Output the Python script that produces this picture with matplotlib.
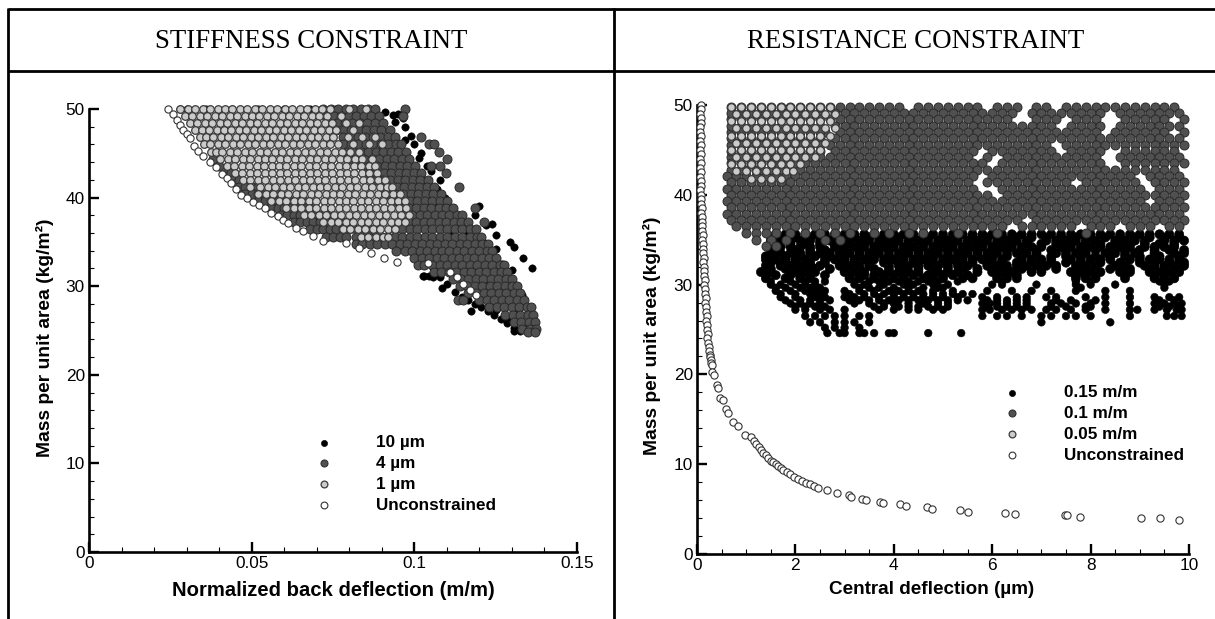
import matplotlib
matplotlib.use("Agg")
import matplotlib.pyplot as plt
from matplotlib.lines import Line2D
from matplotlib.ticker import MultipleLocator

# The clouds are too dense to read every overlapping marker, so the filled
# areas use hand-estimated representative points (row mass, x positions in
# that row), read from the picture's extents and gaps. Isolated points and
# the unconstrained curves are read individually.

# ---- Stiffness panel: x in thousandths of m/m ----
stf_open_x = [24.3,25.8,27,28,28.9,30,31,32.3,33.5,35,37.2,39,40.9,42.3,43.8,45.3,46.8,48.6,50.4,52.2,54,56,58.1,59.6,61.2,63.5,65.9,68.9,71.9,79,83,86.7,90.7,94.7,104.2,111,113,115,117,119]
stf_open_y = [50,49.4,48.8,48.2,47.6,47.2,46.7,45.8,45.3,44.7,44,43.4,42.7,42.2,41.6,41,40.3,39.9,39.5,39.2,38.8,38.3,37.9,37.5,37.1,36.6,36.2,35.7,35.1,34.9,34.3,33.7,33.2,32.7,32.6,31.6,31,30.3,29.6,29]
stf_light_y = [50,49.2,48.4,47.6,46.8,46,45.2,44.4,43.6,42.8,42,41.2,40.4,39.6,38.8,38,37.2,36.4,35.6]
stf_light_x = [
[28,30.3,32.6,34.9,37.2,39.5,41.8,44.1,46.4,48.7,51,53.3,55.6,57.9,60.2,62.5,64.8,67.1,69.4,71.7,74,80,85],
[29.5,31.8,34,36.3,38.6,40.9,43.2,45.5,47.8,50.1,52.4,54.7,57,59.3,61.6,63.9,66.2,68.5,70.8,73.1,77.5],
[31,33.3,35.6,37.9,40.2,42.5,44.8,47.1,49.4,51.7,54,56.3,58.6,60.9,63.2,65.5,67.8,70.1,72.4,74.7,79,83],
[32.5,34.6,36.9,39.2,41.5,43.8,46.1,48.4,50.7,53,55.3,57.6,59.9,62.2,64.5,66.8,69.1,71.4,73.7,76,81],
[34,35.9,38.2,40.5,42.8,45.1,47.4,49.7,52,54.3,56.6,58.9,61.2,63.5,65.8,68.1,70.4,72.7,75,79.5,84,88],
[35.5,37.3,39.6,41.9,44.2,46.5,48.8,51.1,53.4,55.7,58,60.3,62.6,64.9,67.2,69.5,71.8,74.1,76.4,81,86,90],
[37.5,39,41,43.3,45.6,47.9,50.2,52.5,54.8,57.1,59.4,61.7,64,66.3,68.6,70.9,73.2,75.5,77.8,80.1,83],
[40.3,42.6,44.9,47.2,49.5,51.8,54.1,56.4,58.7,61,63.3,65.6,67.9,70.2,72.5,74.8,77.1,79.4,81.7,84,87],
[42.3,44.6,46.9,49.2,51.5,53.8,56.1,58.4,60.7,63,65.3,67.6,69.9,72.2,74.5,76.8,79.1,81.4,83.7,86,88],
[44.8,47.1,49.4,51.7,54,56.3,58.6,60.9,63.2,65.5,67.8,70.1,72.4,74.7,77,79.3,81.6,83.9,86.2,88.5],
[47.3,49.6,51.9,54.2,56.5,58.8,61.1,63.4,65.7,68,70.3,72.6,74.9,77.2,79.5,81.8,84.1,86.4,88.7,91],
[49.5,52.6,54.9,57.2,59.5,61.8,64.1,66.4,68.7,71,73.3,75.6,77.9,80.2,82.5,84.8,87.1,89.4,91.7,93],
[52,54.3,56.6,58.9,61.2,63.5,65.8,68.1,70.4,72.7,75,77.3,79.6,81.9,84.2,86.5,88.8,91.1,93.4,95.7],
[56,58.3,60.6,62.9,65.2,67.5,69.8,72.1,74.4,76.7,79,81.3,83.6,85.9,88.2,90.5,92.8,95.1,97],
[60.5,63,65.3,67.6,69.9,72.2,74.5,76.8,79.1,81.4,83.7,86,88.3,90.6,92.9,95.2,97.5],
[66,68.3,70.6,72.9,75.2,77.5,79.8,82.1,84.4,86.7,89,91.3,93.6,95.9,98.5],
[72,74.3,76.6,78.9,81.2,83.5,85.8,88.1,90.4,92.7,95,97],
[78,80.3,82.6,84.9,87.2,89.5,91.8,94],
[83.5,85.8,88.1,90.4,92],
]
stf_dark_y = [50,49.2,48.4,47.6,46.8,46,45.2,44.4,43.6,42.8,42,41.2,40.4,39.6,38.8,38,37.2,36.4,35.6,34.8,34,33.2,32.4,31.6,30.8,30,29.2,28.4,27.6,26.8,26,25.2,24.8]
stf_dark_x = [
[72,74.3,76.6,78.9,81.2,83.5,85.8,88,97],
[73,75.3,77.6,79.9,82.2,84.5,86.8,89,96.5],
[74,76.3,78.6,80.9,83.2,85.5,87.8,90.5],
[76,78.3,80.6,82.9,85.2,87.5,89.8,92.5],
[78,80.3,82.6,84.9,87.2,89.5,91.8,94,102.2],
[78,80.5,82.8,85.1,87.4,89.7,92,94.5,96,104.5,106],
[79,81.3,83.6,85.9,88.2,90.5,92.8,95.1,97.4,107.5],
[38,80,82.3,84.6,86.9,89.2,91.5,93.8,96.1,98.5,110],
[40,84,86.3,88.6,90.9,93.2,95.5,97.8,100.2,105.2,107.8],
[42,43.5,86,88.3,90.6,92.9,95.2,97.5,99.8,102,109.8],
[44,46,88,90.3,92.6,94.9,97.2,99.5,101.8,104.1],
[46,48,50,52,90,92.3,94.6,96.9,99.2,101.5,103.8,106.1,113.8],
[48,50,52,54,56,58,92,94.3,96.6,98.9,101.2,103.5,105.8,108.1],
[52,54,56,58,60,62,64,66,94,96.3,98.6,100.9,103.2,105.5,107.8,110.1],
[56,58,60,62,64,66,68,96,98.3,100.6,102.9,105.2,107.5,109.8,112,118.6],
[59,61,63,65,67,69,71,73,97,99.3,101.6,103.9,106.2,108.5,110.8,113.1,114.5],
[63,65,67,69,71,73,75,77,79,96,98.3,100.6,102.9,105.2,107.5,109.8,112.1,114.4,116.5,121.5],
[68,70,72,74,76,78,80,82,84,86,88,94,96.3,98.6,100.9,103.2,105.5,107.8,110.1,112.4,114.7,117,119],
[73,75,77,79,82,84,86,88,90,92,94,96.3,98.6,100.9,103.2,105.5,107.8,110.1,112.4,114.7,117,119.3,120.5],
[82,84,86.3,88.6,90.9,93.2,95.5,97.8,100.1,102.4,104.7,107,109.3,111.6,113.9,116.2,118.5,120.8,122.5],
[94.5,97,99.3,101.6,103.9,106.2,108.5,110.8,113.1,115.4,117.7,120,122.3,124],
[100,102.3,104.6,106.9,109.2,111.5,113.8,116.1,118.4,120.7,123,125],
[101,103,105.5,107.8,110.1,112.4,114.7,117,119.3,121.6,123.9,126.2,127.5],
[106,108.3,110.6,112.9,115.2,117.5,119.8,122.1,124.4,126.7,128.5],
[112,114.3,116.6,118.9,121.2,123.5,125.8,128.1,130],
[114,116.3,118.6,120.9,123.2,125.5,127.8,130.1,131.5],
[116.5,119,121.3,123.6,125.9,128.2,130.5,132.5],
[113.5,115,120,122.3,124.6,126.9,129.2,131.5,133.8],
[123,125.3,127.6,129.9,132.2,134.5,136],
[128,130.3,132.6,134.9,136.5],
[130.5,132.8,135.1,137],
[133,135.5,137.5],
[134.8,137],
]
stf_black_x = [28,30,36,44,52,60,68,76,88,91,93.5,95,96.5,94,97,99,97,100,102,101.5,104,105.2,103,108,107,109.5,107,110,112,112.5,109,115,117,112,116,119,121,125,117.5,120,123,127,130,120,122,125,128,130,133,125,127,130,132,135,127.5,130,133,135,135.5,130.5,133,136,125,129,104.5,103,102.8,102.4,105.8,108.5,118.6,122,125,129.4,130.7,133.5,136.3,117.5,124,120,106,108,110,112.5,114.5,116.5,118.5,120.5,122.5,124.5,126.5,128.5,130.5,132.5]
stf_black_y = [50,50,50,50,50,50,50,50,49.9,49.7,49.3,49.4,49,48.5,48,47,46.5,46,45,44.5,43.6,43,42,42,41,40,39.2,38.8,38.5,38,37.5,37,36.5,36,36,35.5,35,34.2,34.8,33.5,33,32.5,31.8,31.5,30.5,30,29.5,29.3,29,28.5,28,27.6,27.3,27,26.5,26.3,26,25.6,25.2,25,25.2,25.5,27.3,26.5,31.1,31.1,31.2,32.5,31,29.8,38,36.9,35.8,35,34.4,33.2,32.1,27.2,37,39,31.8,31,30.2,29.4,28.8,28.4,28,27.6,27.2,26.8,26.3,25.8,25.3,24.9]

# ---- Resistance panel: x in micrometres ----
res_open_x = [0.08,0.09,0.07,0.08,0.09,0.07,0.06,0.08,0.07,0.09,0.06,0.08,0.07,0.09,0.07,0.08,0.06,0.09,0.08,0.07,0.09,0.08,0.09,0.1,0.09,0.1,0.11,0.1,0.11,0.12,0.11,0.13,0.12,0.13,0.14,0.13,0.15,0.14,0.15,0.16,0.15,0.17,0.16,0.18,0.17,0.19,0.18,0.2,0.19,0.21,0.2,0.22,0.21,0.23,0.24,0.25,0.26,0.27,0.28,0.29,0.3,0.31,0.35,0.41,0.43,0.47,0.53,0.59,0.64,0.74,0.83,0.98,1.09,1.15,1.2,1.25,1.3,1.35,1.4,1.45,1.5,1.55,1.6,1.65,1.7,1.75,1.82,1.9,1.98,2.06,2.14,2.22,2.3,2.38,2.45,2.65,2.85,3.08,3.14,3.36,3.44,3.71,3.79,4.12,4.24,4.67,4.77,5.34,5.5,6.25,6.46,7.47,7.52,7.78,9.03,9.41,9.79]
res_open_y = [50,49.5,49,48.5,48,47.5,47,46.5,46,45.5,45,44.5,44,43.5,43,42.5,42,41.5,41,40.5,40,39.5,39,38.5,38,37.5,37,36.5,36,35.5,35,34.5,34,33.5,33,32.5,32,31.5,31,30.5,30,29.5,29,28.5,28,27.5,27,26.5,26,25.5,25,24.5,24,23.5,23,22.6,22.2,21.9,21.6,21.3,21,20.3,19.9,18.8,18.5,17.4,17.1,16.1,15.7,14.7,14.3,13.2,13,12.6,12.2,11.9,11.6,11.3,11,10.7,10.4,10.2,10,9.8,9.6,9.4,9.1,8.9,8.6,8.3,8.1,7.9,7.8,7.6,7.4,7.1,6.8,6.6,6.3,6.1,6,5.8,5.7,5.6,5.3,5.2,5,4.9,4.7,4.6,4.4,4.3,4.3,4.1,4,4,3.8]
res_light_y = [49.8,49,48.2,47.4,46.6,45.8,45,44.2,43.4,42.6,41.8]
res_light_x = [
[0.7,0.9,1.1,1.3,1.5,1.7,1.9,2.1,2.3,2.5,2.7],
[0.8,1.0,1.2,1.4,1.6,1.8,2.0,2.2,2.4,2.6,2.8],
[0.7,0.9,1.1,1.3,1.5,1.7,1.9,2.1,2.3,2.5,2.7],
[0.8,1.0,1.2,1.4,1.6,1.8,2.0,2.2,2.4,2.6,2.8],
[0.7,0.9,1.1,1.3,1.5,1.7,1.9,2.1,2.3,2.5,2.7],
[0.8,1.0,1.2,1.4,1.6,1.8,2.0,2.2,2.4,2.6],
[0.7,0.9,1.1,1.3,1.5,1.7,1.9,2.1,2.3,2.5],
[0.8,1.0,1.2,1.4,1.6,1.8,2.0,2.2,2.4],
[0.7,0.9,1.1,1.3,1.5,1.7,1.9,2.1],
[0.8,1.0,1.2,1.4,1.6,1.8,1.95],
[1.1,1.3,1.5,1.7],
]
res_under_y = [49.8,49.1,48.4,47.7,47,46.3,45.6,44.9,44.2,43.5,42.8]
res_under_x = [
[0.9,1.3,1.7,2.1,2.5],
[0.7,1.1,1.5,1.9,2.3],
[0.9,1.3,1.7,2.1,2.5],
[0.7,1.1,1.5,1.9,2.3],
[0.9,1.3,1.7,2.1,2.5],
[0.7,1.1,1.5,1.9,2.3],
[0.9,1.3,1.7,2.1],
[0.7,1.1,1.5,1.9],
[0.9,1.3,1.7],
[0.7,1.1,1.5],
[0.9,1.2],
]
res_dark_y = [49.8,49.1,48.4,47.7,47,46.3,45.6,44.9,44.2,43.5,42.8,42.1,41.4,40.7,40,39.3,38.6,37.9,37.2,36.5,35.8,35,34.3]
res_dark_x = [
[0.7,1.1,1.5,1.9,2.3,2.7,2.9,3.1,3.3,3.5,3.7,3.9,4.1,4.5,4.7,4.9,5.1,5.3,5.5,5.7,6.1,6.3,6.5,6.9,7.1,7.5,7.7,7.9,8.1,8.3,8.5,8.7,8.9,9.1,9.3,9.5,9.7],
[0.9,1.3,1.7,2.1,2.5,2.8,3.0,3.2,3.4,3.6,3.8,4.0,4.2,4.4,4.6,4.8,5.0,5.2,5.4,5.6,5.8,6.0,6.2,6.4,6.8,7.0,7.2,7.4,7.6,7.8,8.0,8.2,8.6,8.8,9.0,9.2,9.4,9.6,9.8],
[0.7,1.1,1.5,1.9,2.3,2.7,2.9,3.1,3.3,3.5,3.7,3.9,4.1,4.3,4.5,4.7,4.9,5.1,5.3,5.5,5.7,5.9,6.1,6.3,6.9,7.1,7.3,7.7,7.9,8.1,8.7,8.9,9.1,9.3,9.5,9.9],
[0.9,1.3,1.7,2.1,2.5,2.8,3.0,3.2,3.4,3.6,3.8,4.0,4.2,4.4,4.6,4.8,5.0,5.2,5.4,5.6,5.8,6.0,6.2,6.4,6.6,6.8,7.0,7.2,7.6,7.8,8.0,8.2,8.6,8.8,9.0,9.2,9.4,9.6,9.8],
[0.7,1.1,1.5,1.9,2.3,2.6,2.9,3.1,3.3,3.5,3.7,3.9,4.1,4.3,4.5,4.7,4.9,5.1,5.3,5.5,5.7,5.9,6.1,6.3,6.5,6.7,6.9,7.1,7.3,7.5,7.7,7.9,8.1,8.5,8.7,8.9,9.1,9.3,9.5,9.9],
[0.9,1.3,1.7,2.1,2.5,2.8,3.0,3.2,3.4,3.6,3.8,4.0,4.2,4.4,4.6,4.8,5.0,5.2,5.4,5.6,5.8,6.0,6.2,6.4,6.6,6.8,7.0,7.2,7.4,7.6,7.8,8.0,8.2,8.4,8.6,8.8,9.0,9.2,9.4,9.6,9.8],
[0.7,1.1,1.5,1.9,2.3,2.5,2.7,2.9,3.1,3.3,3.5,3.7,3.9,4.1,4.3,4.5,4.7,4.9,5.1,5.3,5.5,5.7,5.9,6.1,6.3,6.5,6.7,6.9,7.1,7.5,7.7,7.9,8.1,8.3,8.5,8.7,8.9,9.1,9.3,9.5,9.7,9.9],
[0.9,1.3,1.7,2.1,2.3,2.5,2.8,3.0,3.2,3.4,3.6,3.8,4.0,4.2,4.4,4.6,4.8,5.0,5.2,5.4,5.6,6.0,6.2,6.4,6.6,6.8,7.0,7.2,7.6,7.8,8.0,8.2,8.7,8.9,9.1,9.3,9.5,9.7],
[0.7,1.1,1.5,1.9,2.1,2.3,2.5,2.7,2.9,3.1,3.3,3.5,3.7,3.9,4.1,4.3,4.5,4.7,4.9,5.1,5.3,5.5,5.9,6.3,6.5,6.7,6.9,7.1,7.3,7.5,7.7,7.9,8.1,8.6,8.8,9.0,9.2,9.4,9.6,9.8],
[0.9,1.3,1.6,1.8,2.0,2.2,2.4,2.6,2.8,3.0,3.2,3.4,3.6,3.8,4.0,4.2,4.4,4.6,4.8,5.0,5.2,5.4,5.6,5.8,6.2,6.4,6.6,6.8,7.0,7.2,7.4,7.6,7.8,8.0,8.2,8.7,8.9,9.1,9.3,9.5,9.7,9.9],
[0.7,1.0,1.3,1.5,1.7,1.9,2.1,2.3,2.5,2.7,2.9,3.1,3.3,3.5,3.7,3.9,4.1,4.3,4.5,4.7,4.9,5.1,5.3,5.5,5.7,5.9,6.1,6.3,6.5,6.7,6.9,7.1,7.3,7.5,7.7,7.9,8.1,8.3,8.5,8.7,8.9,9.1,9.3,9.5,9.7],
[0.6,0.8,1.0,1.2,1.4,1.6,1.8,2.0,2.2,2.4,2.6,2.8,3.0,3.2,3.4,3.6,3.8,4.0,4.2,4.4,4.6,4.8,5.0,5.2,5.4,5.6,6.0,6.2,6.4,6.6,6.8,7.0,7.2,7.4,7.6,7.8,8.0,8.2,8.4,8.6,8.8,9.2,9.4,9.6,9.8],
[0.7,0.9,1.1,1.3,1.5,1.7,1.9,2.1,2.3,2.5,2.7,2.9,3.1,3.3,3.5,3.7,3.9,4.1,4.3,4.5,4.7,4.9,5.1,5.3,5.5,5.9,6.1,6.3,6.5,6.7,6.9,7.1,7.3,7.5,7.9,8.1,8.3,8.5,8.7,8.9,9.3,9.5,9.7,9.9],
[0.6,0.8,1.0,1.2,1.4,1.6,1.8,2.0,2.2,2.4,2.6,2.8,3.0,3.2,3.4,3.6,3.8,4.0,4.2,4.4,4.6,4.8,5.0,5.2,5.4,5.6,6.2,6.4,6.6,6.8,7.0,7.2,7.4,7.6,7.8,8.0,8.2,8.4,8.6,8.8,9.0,9.4,9.6,9.8],
[0.7,0.9,1.1,1.3,1.5,1.7,1.9,2.1,2.3,2.5,2.7,2.9,3.1,3.3,3.5,3.7,3.9,4.1,4.3,4.5,4.7,4.9,5.1,5.3,5.5,5.7,5.9,6.3,6.5,6.7,6.9,7.1,7.3,7.5,7.7,7.9,8.1,8.3,8.5,8.7,8.9,9.1,9.3,9.5,9.7,9.9],
[0.6,0.8,1.0,1.2,1.4,1.6,1.8,2.0,2.2,2.4,2.6,2.8,3.0,3.2,3.4,3.6,3.8,4.0,4.2,4.4,4.6,4.8,5.0,5.2,5.4,5.6,5.8,6.0,6.2,6.4,6.6,6.8,7.0,7.2,7.4,7.6,7.8,8.0,8.2,8.4,8.6,8.8,9.0,9.4,9.6,9.8],
[0.7,0.9,1.1,1.3,1.5,1.7,1.9,2.1,2.3,2.5,2.7,2.9,3.1,3.3,3.5,3.7,3.9,4.1,4.3,4.5,4.7,4.9,5.1,5.3,5.5,5.7,5.9,6.1,6.3,6.5,6.7,6.9,7.1,7.3,7.5,7.7,7.9,8.1,8.3,8.5,8.7,8.9,9.1,9.3,9.5,9.7,9.9],
[0.6,0.8,1.0,1.2,1.4,1.6,1.8,2.0,2.2,2.4,2.6,2.8,3.0,3.2,3.4,3.6,3.8,4.0,4.2,4.4,4.6,4.8,5.0,5.2,5.4,5.6,5.8,6.0,6.2,6.4,6.6,6.8,7.0,7.2,7.4,7.6,7.8,8.0,8.2,8.4,8.6,8.8,9.0,9.2,9.4,9.6,9.8],
[0.7,0.9,1.1,1.3,1.5,1.7,1.9,2.1,2.3,2.5,2.7,2.9,3.1,3.3,3.5,3.7,3.9,4.1,4.3,4.5,4.7,4.9,5.1,5.3,5.5,5.7,5.9,6.1,6.3,6.5,6.9,7.1,7.3,7.5,7.7,7.9,8.1,8.3,8.5,8.7,8.9,9.1,9.3,9.5,9.7,9.9],
[0.8,1.0,1.2,1.4,1.6,1.8,2.0,2.2,2.4,2.6,2.8,3.0,3.2,3.4,3.6,3.8,4.0,4.2,4.4,4.6,4.8,5.0,5.2,5.4,5.6,5.8,6.0,6.2,6.6,6.8,7.0,7.2,7.4,7.6,8.0,8.2,8.4,8.8,9.0,9.2,9.6,9.8],
[1.0,1.2,1.4,1.6,1.9,2.2,2.5,2.8,3.1,3.6,3.9,4.3,4.6,5.3,6.1,7.9],
[1.2,1.5,1.8,2.6,2.9],
[1.4,1.6],
]
res_black_y = [35.6,34.9,34.2,33.5,32.8,32.1,31.4,30.7,30,29.3,28.6,27.9,27.2,26.5,25.8,25.2,24.6]
res_black_x = [
[1.6,1.8,2.0,2.2,2.4,2.6,2.8,3.0,3.2,3.4,3.6,3.8,4.0,4.2,4.4,4.6,4.8,5.0,5.2,5.4,5.6,5.8,6.0,6.2,6.4,6.6,6.8,7.0,7.2,7.4,7.6,7.8,8.0,8.2,8.4,8.6,8.8,9.0,9.2,9.4,9.6,9.8],
[1.5,1.7,1.9,2.1,2.3,2.5,2.7,2.9,3.1,3.3,3.5,3.7,3.9,4.1,4.3,4.5,4.7,4.9,5.1,5.3,5.5,5.7,5.9,6.1,6.3,6.5,6.7,7.1,7.3,7.5,7.7,7.9,8.1,8.5,8.7,8.9,9.1,9.5,9.7,9.9],
[1.5,1.7,1.9,2.1,2.3,2.5,2.8,3.0,3.2,3.4,3.6,3.8,4.0,4.2,4.4,4.6,4.8,5.0,5.2,5.4,5.6,5.8,6.0,6.2,6.4,6.6,6.8,7.0,7.4,7.6,7.8,8.0,8.2,8.4,8.6,8.8,9.1,9.3,9.5,9.7],
[1.5,1.7,1.9,2.1,2.3,2.5,2.7,2.9,3.1,3.3,3.5,3.7,3.9,4.1,4.3,4.5,4.7,4.9,5.1,5.3,5.5,5.7,5.9,6.1,6.3,6.5,6.7,6.9,7.3,7.5,7.7,7.9,8.3,8.5,8.7,8.9,9.3,9.7,9.9],
[1.4,1.6,1.8,2.0,2.2,2.6,2.8,3.0,3.2,3.4,3.6,3.8,4.0,4.2,4.4,4.6,4.8,5.0,5.2,5.4,5.6,5.8,6.0,6.2,6.6,6.8,7.0,7.2,7.6,7.8,8.0,8.2,8.4,8.8,9.0,9.2,9.4,9.6,9.8],
[1.4,1.7,1.9,2.1,2.3,2.5,2.9,3.1,3.3,3.5,3.9,4.1,4.3,4.5,4.7,4.9,5.1,5.3,5.5,5.9,6.1,6.3,6.5,6.7,6.9,7.1,7.3,7.7,7.9,8.1,8.5,8.7,9.1,9.3,9.5,9.7,9.9],
[1.3,1.5,2.0,2.2,2.4,3.0,3.2,3.4,3.7,3.9,4.1,4.3,4.5,4.9,5.1,5.3,5.7,6.0,6.2,6.4,6.8,7.0,7.6,7.8,8.0,8.2,8.6,8.8,9.2,9.4,9.6,9.8],
[1.4,1.8,2.1,2.3,3.1,3.3,3.6,3.8,4.0,4.2,4.6,4.8,5.0,5.4,5.6,6.1,6.3,6.5,7.7,7.9,8.1,8.7,9.3,9.5,9.7],
[1.5,1.7,2.0,2.2,2.4,3.2,3.4,3.8,4.2,4.4,4.8,5.1,6.0,6.2,6.9,7.7,8.0,8.5,9.5],
[1.6,1.9,2.2,2.4,2.6,3.0,3.3,3.6,3.9,4.1,4.3,4.5,4.8,5.2,5.9,6.4,6.8,7.2,7.7,8.3,8.8],
[1.7,2.0,2.4,2.6,3.0,3.2,3.4,3.7,4.0,4.2,4.4,4.6,4.8,5.0,5.3,5.8,6.1,6.5,6.7,7.1,7.3,7.9,8.3,8.8,9.3,9.6,9.8],
[1.9,2.1,2.3,2.5,3.2,3.5,3.8,4.0,4.3,4.6,4.9,5.1,5.8,5.95,6.1,6.3,6.5,6.7,7.2,7.4,7.7,8.0,8.3,8.8,9.3,9.5,9.7,9.85],
[2.0,2.2,2.5,2.7,3.0,3.7,4.0,4.3,4.5,4.8,5.0,5.8,5.95,6.2,6.4,6.6,6.8,7.1,7.3,7.6,7.9,8.3,8.8,8.95,9.3,9.55,9.75,9.85],
[2.2,2.4,2.6,2.8,3.0,3.3,3.5,5.8,6.1,6.3,6.6,7.0,7.2,7.5,7.7,8.0,8.8,9.55,9.7,9.85],
[2.3,2.5,2.8,3.0,3.2,3.5,8.4,7.0],
[2.6,2.8,3.0,3.3],
[2.65,2.9,3.0,3.3,3.4,3.6,3.9,4.0,4.7,5.37],
]
res_fill_y = [35.25,34.55,33.85,33.15,32.45,31.75,31.05,30.35,29.65,28.95,28.25,27.55]
res_fill_x = [
[1.7,2.0,2.3,2.6,2.9,3.2,3.5,3.8,4.1,4.4,4.7,5.0,5.3,5.6,5.9,6.2,6.5,6.8,7.1,7.4,7.7,8.0,8.3,8.6,8.9,9.2,9.5,9.8],
[1.6,1.9,2.2,2.5,2.8,3.1,3.4,3.7,4.0,4.3,4.6,4.9,5.2,5.5,5.8,6.1,6.4,6.7,7.0,7.3,7.6,7.9,8.2,8.5,8.8,9.1,9.4,9.7],
[1.6,2.0,2.3,2.6,2.9,3.3,3.6,3.9,4.2,4.5,4.8,5.1,5.4,5.7,6.0,6.3,6.6,6.9,7.2,7.5,7.8,8.1,8.4,8.7,9.0,9.3,9.6,9.9],
[1.4,1.8,2.1,2.4,2.7,3.0,3.3,3.6,3.9,4.2,4.5,4.8,5.1,5.4,5.7,6.0,6.3,6.6,6.9,7.2,7.5,7.8,8.1,8.4,8.7,9.0,9.4,9.8],
[1.5,1.7,2.0,2.3,2.6,2.9,3.2,3.5,3.8,4.1,4.4,4.7,5.0,5.3,5.6,5.9,6.2,6.5,6.8,7.2,7.5,7.8,8.2,8.6,9.0,9.3,9.6,9.9],
[1.5,1.8,2.0,2.2,2.4,2.7,3.0,3.3,3.6,3.9,4.2,4.5,4.8,5.1,5.4,5.7,6.0,6.3,6.6,7.0,7.3,7.8,8.0,8.4,8.8,9.2,9.5,9.8],
[1.4,1.6,1.9,2.1,2.3,2.6,3.1,3.4,3.6,3.8,4.0,4.2,4.4,4.7,5.0,5.2,5.5,6.1,6.3,6.5,7.7,7.9,8.1,8.7,9.3,9.5,9.7],
[1.5,1.9,2.2,2.4,2.6,3.2,3.5,3.7,3.9,4.1,4.3,4.5,4.7,4.9,5.3,6.2,7.7,8.0,9.4,9.6],
[1.6,1.8,2.1,2.3,2.5,3.3,3.5,3.7,4.0,4.3,4.6,4.9,5.0,7.8,9.5],
[1.7,2.0,2.3,2.5,3.1,3.4,3.6,3.8,4.0,4.2,4.4,4.6,4.8,5.0,5.2,5.4,5.6],
[1.8,2.1,2.3,2.5,2.7,3.1,3.3,3.5,3.7,3.9,4.1,4.3,4.5,4.7,4.9,5.1,5.3,5.5,5.9,6.1,6.3,6.5,6.7,7.3,7.6,8.1,9.4,9.7],
[2.0,2.2,2.4,2.6,3.6,3.8,4.1,4.3,4.5,4.7,4.9,5.1,5.9,6.1,6.3,6.5,6.7,7.2,7.5,7.9,8.0,9.4,9.6,9.8],
]

# ---- Tick labels, axis titles, legend entries ----
panel_titles = ["STIFFNESS CONSTRAINT", "RESISTANCE CONSTRAINT"]
stf_labels = ["10 µm", "4 µm", "1 µm", "Unconstrained"]
res_labels = ["0.15 m/m", "0.1 m/m", "0.05 m/m", "Unconstrained"]
stf_xticklabels = ["0", "0.05", "0.1", "0.15"]
res_xticklabels = ["0", "2", "4", "6", "8", "10"]
y_ticks = [0, 10, 20, 30, 40, 50]

W, H = 1215, 619
plt.rcParams["font.family"] = ["Liberation Sans", "DejaVu Sans"]
fig = plt.figure(figsize=(W / 100, H / 100), dpi=100, facecolor="white")

def axes_px(x0, x1, ytop, ybot):
    return fig.add_axes([x0 / W, 1 - ybot / H, (x1 - x0) / W, (ybot - ytop) / H])

def frame(x0, y0, x1, y1):
    fig.add_artist(Line2D([x0 / W, x1 / W], [1 - y0 / H, 1 - y1 / H], color="black", lw=2.0, solid_capstyle="butt"))

frame(8, 9, 1215, 9)
frame(8, 71, 1215, 71)
frame(8, 8, 8, 619)
frame(614, 8, 614, 619)
fig.text(311 / W, 1 - 41 / H, panel_titles[0], family="Liberation Serif", fontsize=19.4, ha="center", va="center")
fig.text(916 / W, 1 - 41 / H, panel_titles[1], family="Liberation Serif", fontsize=19.4, ha="center", va="center")

STYLE = {
    "black": dict(s=28, c="black", edgecolors="black", linewidths=0.4),
    "dark": dict(s=42, c="#505050", edgecolors="#2a2a2a", linewidths=0.7),
    "light": dict(s=30, c="#cbcbcb", edgecolors="#3a3a3a", linewidths=0.9),
    "open": dict(s=27, c="white", edgecolors="#333333", linewidths=0.8),
}
LEGEND_S = {"black": 20, "dark": 26, "light": 24, "open": 24}

def expand(ys, rows, scale=1.0):
    xs_out, ys_out = [], []
    for y, row in zip(ys, rows):
        for x in row:
            xs_out.append(x * scale)
            ys_out.append(y)
    return xs_out, ys_out

def style_axes(ax, xlim, minor, xticks, xticklabels, xlabel, xfs, xcoords, yfs, ycoords):
    ax.set_xlim(*xlim)
    ax.set_ylim(0, 50)
    for s in ("top", "right"):
        ax.spines[s].set_visible(False)
    for s in ("left", "bottom"):
        ax.spines[s].set_linewidth(1.9)
    ax.xaxis.set_minor_locator(MultipleLocator(minor))
    ax.yaxis.set_minor_locator(MultipleLocator(2))
    ax.set_yticks(y_ticks)
    ax.set_xticks(xticks)
    ax.set_xticklabels(xticklabels)
    ax.tick_params(which="major", direction="in", length=7, width=1.7, labelsize=12.4, pad=3)
    ax.tick_params(which="minor", direction="in", length=3.5, width=0.8)
    ax.set_xlabel(xlabel, fontsize=xfs, fontweight="bold", va="center")
    ax.set_ylabel("Mass per unit area (kg/m²)", fontsize=yfs, fontweight="bold", va="center")
    ax.xaxis.set_label_coords(*xcoords)
    ax.yaxis.set_label_coords(*ycoords)

def add_legend(ax, labels, anchor):
    keys = ["black", "dark", "light", "open"]
    handles = [ax.scatter([], [], **{**STYLE[k], "s": LEGEND_S[k]}) for k in keys]
    ax.legend(handles, labels, loc="upper left", bbox_to_anchor=anchor, bbox_transform=fig.transFigure,
              frameon=False, prop={"weight": "bold", "size": 12.3}, labelspacing=0.345,
              handletextpad=2.05, borderpad=0, borderaxespad=0)

ax1 = axes_px(89, 577, 109, 552)
ax1.scatter([v / 1000 for v in stf_black_x], stf_black_y, clip_on=False, zorder=2, **STYLE["black"])
x, y = expand(stf_dark_y, stf_dark_x, 0.001)
ax1.scatter(x, y, clip_on=False, zorder=3, **STYLE["dark"])
x, y = expand(stf_light_y, stf_light_x, 0.001)
ax1.scatter(x, y, clip_on=False, zorder=4, **STYLE["light"])
ax1.scatter([v / 1000 for v in stf_open_x], stf_open_y, clip_on=False, zorder=5, **STYLE["open"])
style_axes(ax1, (0, 0.15), 0.01, [0, 0.05, 0.1, 0.15], stf_xticklabels,
           "Normalized back deflection (m/m)", 14.6, (0.5, -0.086), 13.9, (-0.09, 0.483))
add_legend(ax1, stf_labels, (307 / W, 1 - 435 / H))

ax2 = axes_px(697, 1189, 105, 554)
black_style = {k: v for k, v in STYLE["black"].items() if k != "s"}
for row_y, row_x in ((res_black_y, res_black_x), (res_fill_y, res_fill_x)):
    x, y = expand(row_y, row_x)
    ax2.scatter(x, y, s=[44 if v >= 30.5 else 30 for v in y], clip_on=False, zorder=2, **black_style)
x, y = expand(res_dark_y, res_dark_x)
ax2.scatter(x, y, clip_on=False, zorder=3, **STYLE["dark"])
x, y = expand(res_under_y, res_under_x)
ax2.scatter(x, y, clip_on=False, zorder=3, **STYLE["dark"])
x, y = expand(res_light_y, res_light_x)
ax2.scatter(x, y, clip_on=False, zorder=4, **STYLE["light"])
ax2.scatter(res_open_x, res_open_y, clip_on=False, zorder=5, **STYLE["open"])
style_axes(ax2, (0, 10), 0.5, [0, 2, 4, 6, 8, 10], res_xticklabels,
           "Central deflection (µm)", 13.6, (0.476, -0.08), 13.9, (-0.0915, 0.485))
add_legend(ax2, res_labels, (994.5 / W, 1 - 385 / H))

fig.savefig("out.png", dpi=100)
